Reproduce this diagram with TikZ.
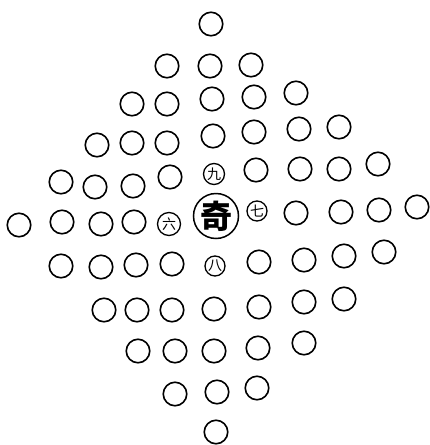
\documentclass[tikz,border=0pt]{standalone}
\usepackage{fontspec}
\newfontfamily\cjk{Noto Sans CJK SC}
\begin{document}
\begin{tikzpicture}[x=1pt,y=-1pt,
  ring/.style={circle,draw=black,line width=1.6pt,minimum size=23.5pt,inner sep=0pt},
  numring/.style={circle,draw=black,line width=1.3pt,minimum size=21pt,inner sep=0pt,font=\cjk\fontsize{14}{14}\selectfont},
  bigring/.style={circle,draw=black,line width=1.5pt,minimum size=45pt,inner sep=0pt,font=\cjk\bfseries\fontsize{32}{32}\selectfont}]
\useasboundingbox (0,0) rectangle (430,445);
% row 1
\node[ring] (a1) at (211,24) {};
% row 2
\foreach \x/\y [count=\i] in {167/66,210/66,251/65}
  \node[ring] (b\i) at (\x,\y) {};
% row 3
\foreach \x/\y [count=\i] in {132/104,167/104,212/99,254/97,296/93}
  \node[ring] (c\i) at (\x,\y) {};
% row 4
\foreach \x/\y [count=\i] in {97/145,132/143,167/143,213/136,254/132,299/129,339/127}
  \node[ring] (d\i) at (\x,\y) {};
% row 5
\foreach \x/\y [count=\i] in {61/182,95/187,133/186,170/177,256/170,300/169,339/169,378/164}
  \node[ring] (e\i) at (\x,\y) {};
\node[numring] (nine) at (214,174) {九};
% row 6
\foreach \x/\y [count=\i] in {19/225,62/222,101/224,134/222,296/213,341/212,379/210,417/207}
  \node[ring] (f\i) at (\x,\y) {};
\node[numring,minimum size=23pt] (six) at (169,224) {六};
\node[bigring] (qi) at (216,216) {奇};
\node[numring,minimum size=20pt] (seven) at (257,211) {七};
% row 7
\foreach \x/\y [count=\i] in {61/266,101/267,136/265,172/264,259/262,304/260,344/256,384/252}
  \node[ring] (g\i) at (\x,\y) {};
\node[numring,minimum size=20pt] (eight) at (215,266) {八};
% row 8
\foreach \x/\y [count=\i] in {104/310,137/310,172/310,214/309,259/307,304/302,344/299}
  \node[ring] (h\i) at (\x,\y) {};
% row 9
\foreach \x/\y [count=\i] in {138/351,175/351,214/351,258/348,304/343}
  \node[ring] (k\i) at (\x,\y) {};
% row 10
\foreach \x/\y [count=\i] in {175/394,217/392,257/388}
  \node[ring] (m\i) at (\x,\y) {};
% row 11
\node[ring] (n1) at (216,432) {};
\end{tikzpicture}
\end{document}
